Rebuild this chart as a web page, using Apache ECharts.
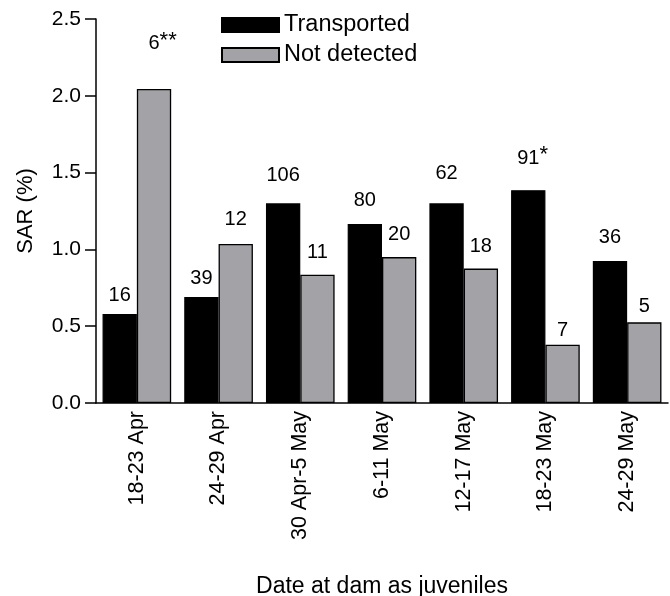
<!DOCTYPE html>
<html>
<head>
<meta charset="utf-8">
<script src="https://cdn.jsdelivr.net/npm/echarts@6/dist/echarts.min.js"></script>
<style>
  html, body { margin: 0; padding: 0; background: #fff; }
  #chart { width: 670px; height: 596px; }
</style>
</head>
<body>
<div id="chart"></div>
<script>
// Smolt-to-adult return rates by week of passage at the dam
const categories = ['18-23 Apr', '24-29 Apr', '30 Apr-5 May', '6-11 May', '12-17 May', '18-23 May', '24-29 May'];
const transportedSAR = [0.58, 0.69, 1.30, 1.165, 1.30, 1.385, 0.925];
const notDetectedSAR = [2.045, 1.035, 0.835, 0.95, 0.875, 0.38, 0.525];
// Number of returning adults printed above each bar
const transportedN = [16, 39, 106, 80, 62, 91, 36];
const notDetectedN = [6, 12, 11, 20, 18, 7, 5];
// Significance marks attached to the counts
const transportedSig = ['', '', '', '', '', '*', ''];
const notDetectedSig = ['**', '', '', '', '', '', ''];
const yTicks = { min: 0, max: 2.5, interval: 0.5 };

// Label spacing above each bar (px)
const transportedLabelGap = [8, 9, 18, 14, 20, 22, 13];
const notDetectedLabelGap = [35, 15, 12, 13, 12, 4, 6];

const FONT = 'Liberation Sans, Arial, sans-serif';
const GREY = '#a3a3a7';

const richStyles = {
  pad: { fontSize: 22, lineHeight: 20, color: 'rgba(0,0,0,0)', verticalAlign: 'top', fontFamily: FONT },
  n: { fontSize: 20, lineHeight: 24, color: '#000', verticalAlign: 'bottom', fontFamily: FONT },
  s: { fontSize: 22, lineHeight: 20, color: '#000', verticalAlign: 'top', fontFamily: FONT }
};

function labelText(n, sig) {
  return sig ? '{pad|' + sig + '}{n|' + n + '}{s|' + sig + '}' : '{n|' + n + '}';
}

function barData(values, counts, sigs, gaps) {
  return values.map((v, i) => ({
    value: v,
    label: { formatter: labelText(counts[i], sigs[i]), distance: gaps[i] }
  }));
}

const chart = echarts.init(document.getElementById('chart'), null, { renderer: 'canvas' });

const labelBase = {
  show: true,
  position: 'top',
  color: '#000',
  fontFamily: FONT,
  fontSize: 20,
  textBorderWidth: 0,
  rich: richStyles
};

chart.setOption({
  animation: false,
  backgroundColor: '#fff',
  textStyle: { fontFamily: FONT, color: '#000' },
  grid: { left: 96, right: 2, top: 19, bottom: 193, containLabel: false, outerBoundsMode: 'none' },
  legend: {
    orient: 'vertical',
    left: 216,
    top: 8,
    itemWidth: 57,
    itemHeight: 14,
    itemGap: 6,
    icon: 'rect',
    textStyle: { fontSize: 23.5, color: '#000', fontFamily: FONT },
    data: ['Transported', 'Not detected']
  },
  xAxis: {
    type: 'category',
    data: categories,
    name: 'Date at dam as juveniles',
    nameLocation: 'middle',
    nameGap: 172,
    nameTextStyle: { fontSize: 23, color: '#000', fontFamily: FONT },
    axisLine: { lineStyle: { color: '#000', width: 1.5 } },
    axisTick: { show: false },
    axisLabel: { rotate: 90, fontSize: 21.5, color: '#000', margin: 8, fontFamily: FONT, interval: 0 },
    splitLine: { show: false }
  },
  yAxis: {
    type: 'value',
    min: yTicks.min,
    max: yTicks.max,
    interval: yTicks.interval,
    name: 'SAR (%)',
    nameLocation: 'middle',
    nameGap: 59,
    nameRotate: 90,
    nameTextStyle: { fontSize: 22, color: '#000', fontFamily: FONT },
    axisLine: { show: true, lineStyle: { color: '#000', width: 1.5 } },
    axisTick: { show: true, inside: false, length: 11, lineStyle: { color: '#000', width: 1.5 } },
    axisLabel: { fontSize: 21, color: '#000', margin: 15, fontFamily: FONT, formatter: v => v.toFixed(1) },
    splitLine: { show: false }
  },
  series: [
    {
      name: 'Transported',
      type: 'bar',
      barGap: '0%',
      barCategoryGap: '16%',
      itemStyle: { color: '#000', borderColor: '#000', borderWidth: 1.2 },
      label: labelBase,
      data: barData(transportedSAR, transportedN, transportedSig, transportedLabelGap)
    },
    {
      name: 'Not detected',
      type: 'bar',
      barGap: '0%',
      barCategoryGap: '16%',
      itemStyle: { color: GREY, borderColor: '#000', borderWidth: 1.3 },
      label: labelBase,
      data: barData(notDetectedSAR, notDetectedN, notDetectedSig, notDetectedLabelGap)
    }
  ]
});
</script>
</body>
</html>
